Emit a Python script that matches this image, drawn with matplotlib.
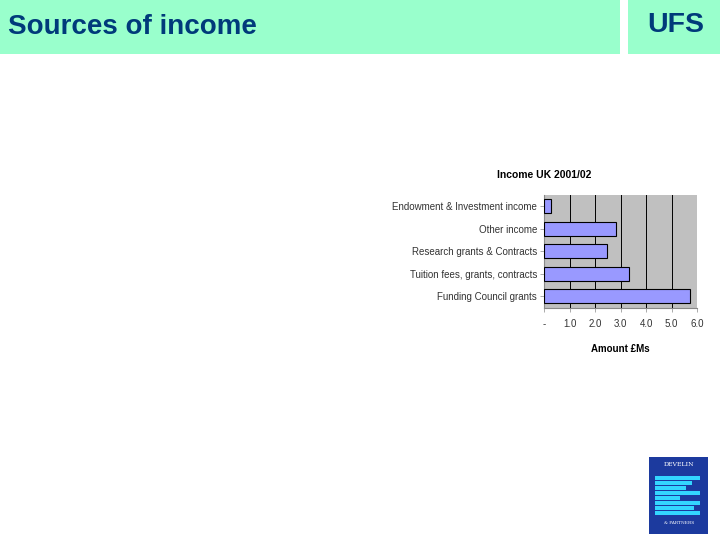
import matplotlib
matplotlib.use("Agg")
import matplotlib.pyplot as plt
from matplotlib.patches import Rectangle

categories = ["Funding Council grants", "Tuition fees, grants, contracts",
              "Research grants & Contracts", "Other income",
              "Endowment & Investment income"]
values = [5.72, 3.35, 2.46, 2.81, 0.27]
xticks = [0, 1, 2, 3, 4, 5, 6]
xtick_labels = ["-", "1.0", "2.0", "3.0", "4.0", "5.0", "6.0"]

plt.rcParams['font.family'] = ['Liberation Sans', 'DejaVu Sans']

W, H = 720, 540
fig = plt.figure(figsize=(7.2, 5.4), dpi=100)
fig.patch.set_facecolor('white')

def fx(x): return x / W
def fy(y): return 1 - y / H

# header bands
fig.patches.append(Rectangle((fx(0), fy(54)), fx(620), 54 / H, transform=fig.transFigure,
                             facecolor='#99FFCC', edgecolor='none', zorder=0))
fig.patches.append(Rectangle((fx(628), fy(54)), fx(92), 54 / H, transform=fig.transFigure,
                             facecolor='#99FFCC', edgecolor='none', zorder=0))
fig.text(fx(8), fy(27), "Sources of income", fontsize=20, fontweight='bold',
         color='#003A7A', ha='left', va='center')
fig.text(fx(675.5), fy(25), "UFS", fontsize=20.5, fontweight='bold',
         color='#003A7A', ha='center', va='center')

# chart
ax = fig.add_axes([fx(544), fy(307.7), (697 - 544) / W, (307.7 - 195) / H])
ax.set_facecolor('#C0C0C0')
ypos = range(len(categories))
ax.barh(ypos, values, height=0.62, color='#9999FF', edgecolor='black', linewidth=0.8, zorder=3)
ax.set_xlim(0, 6)
ax.set_ylim(-0.5, len(categories) - 0.5)
ax.set_xticks(xticks)
ax.set_xticklabels(xtick_labels, fontsize=7, color='#333333')
ax.set_yticks(list(ypos))
ax.set_yticklabels(categories, fontsize=7, color='#333333')
ax.xaxis.grid(True, color='black', linewidth=0.7, zorder=1)
ax.set_axisbelow(True)
for s in ['top', 'right']:
    ax.spines[s].set_visible(False)
ax.spines['left'].set_color('#888888')
ax.spines['bottom'].set_color('#888888')
ax.tick_params(axis='y', length=3, width=0.5, color='#888888', pad=2)
ax.tick_params(axis='x', length=3, width=0.5, color='#888888', pad=5)
ax.set_title("Income UK 2001/02", fontsize=7.5, fontweight='bold', pad=12.5, x=0.0)
ax.set_xlabel("Amount £Ms", fontsize=7, fontweight='bold', labelpad=11)

# logo
fig.patches.append(Rectangle((fx(649), fy(534)), 59 / W, 77 / H, transform=fig.transFigure,
                             facecolor='#1C3A9E', edgecolor='none'))
stripe_rows = [(476, 700), (481, 692), (486, 686), (491, 700), (496, 680), (501, 700),
               (506, 694), (511, 700)]
for y0, x1 in stripe_rows:
    fig.patches.append(Rectangle((fx(655), fy(y0 + 3.5)), (x1 - 655) / W, 3.5 / H,
                                 transform=fig.transFigure, facecolor='#33D6FF', edgecolor='none'))
fig.text(fx(679), fy(465), "DEVELIN", fontsize=4.5, family='DejaVu Serif', color='white',
         ha='center', va='center')
fig.text(fx(679), fy(523), "& PARTNERS", fontsize=3.2, family='DejaVu Serif', color='white',
         ha='center', va='center')

fig.savefig("out.png", dpi=100)
